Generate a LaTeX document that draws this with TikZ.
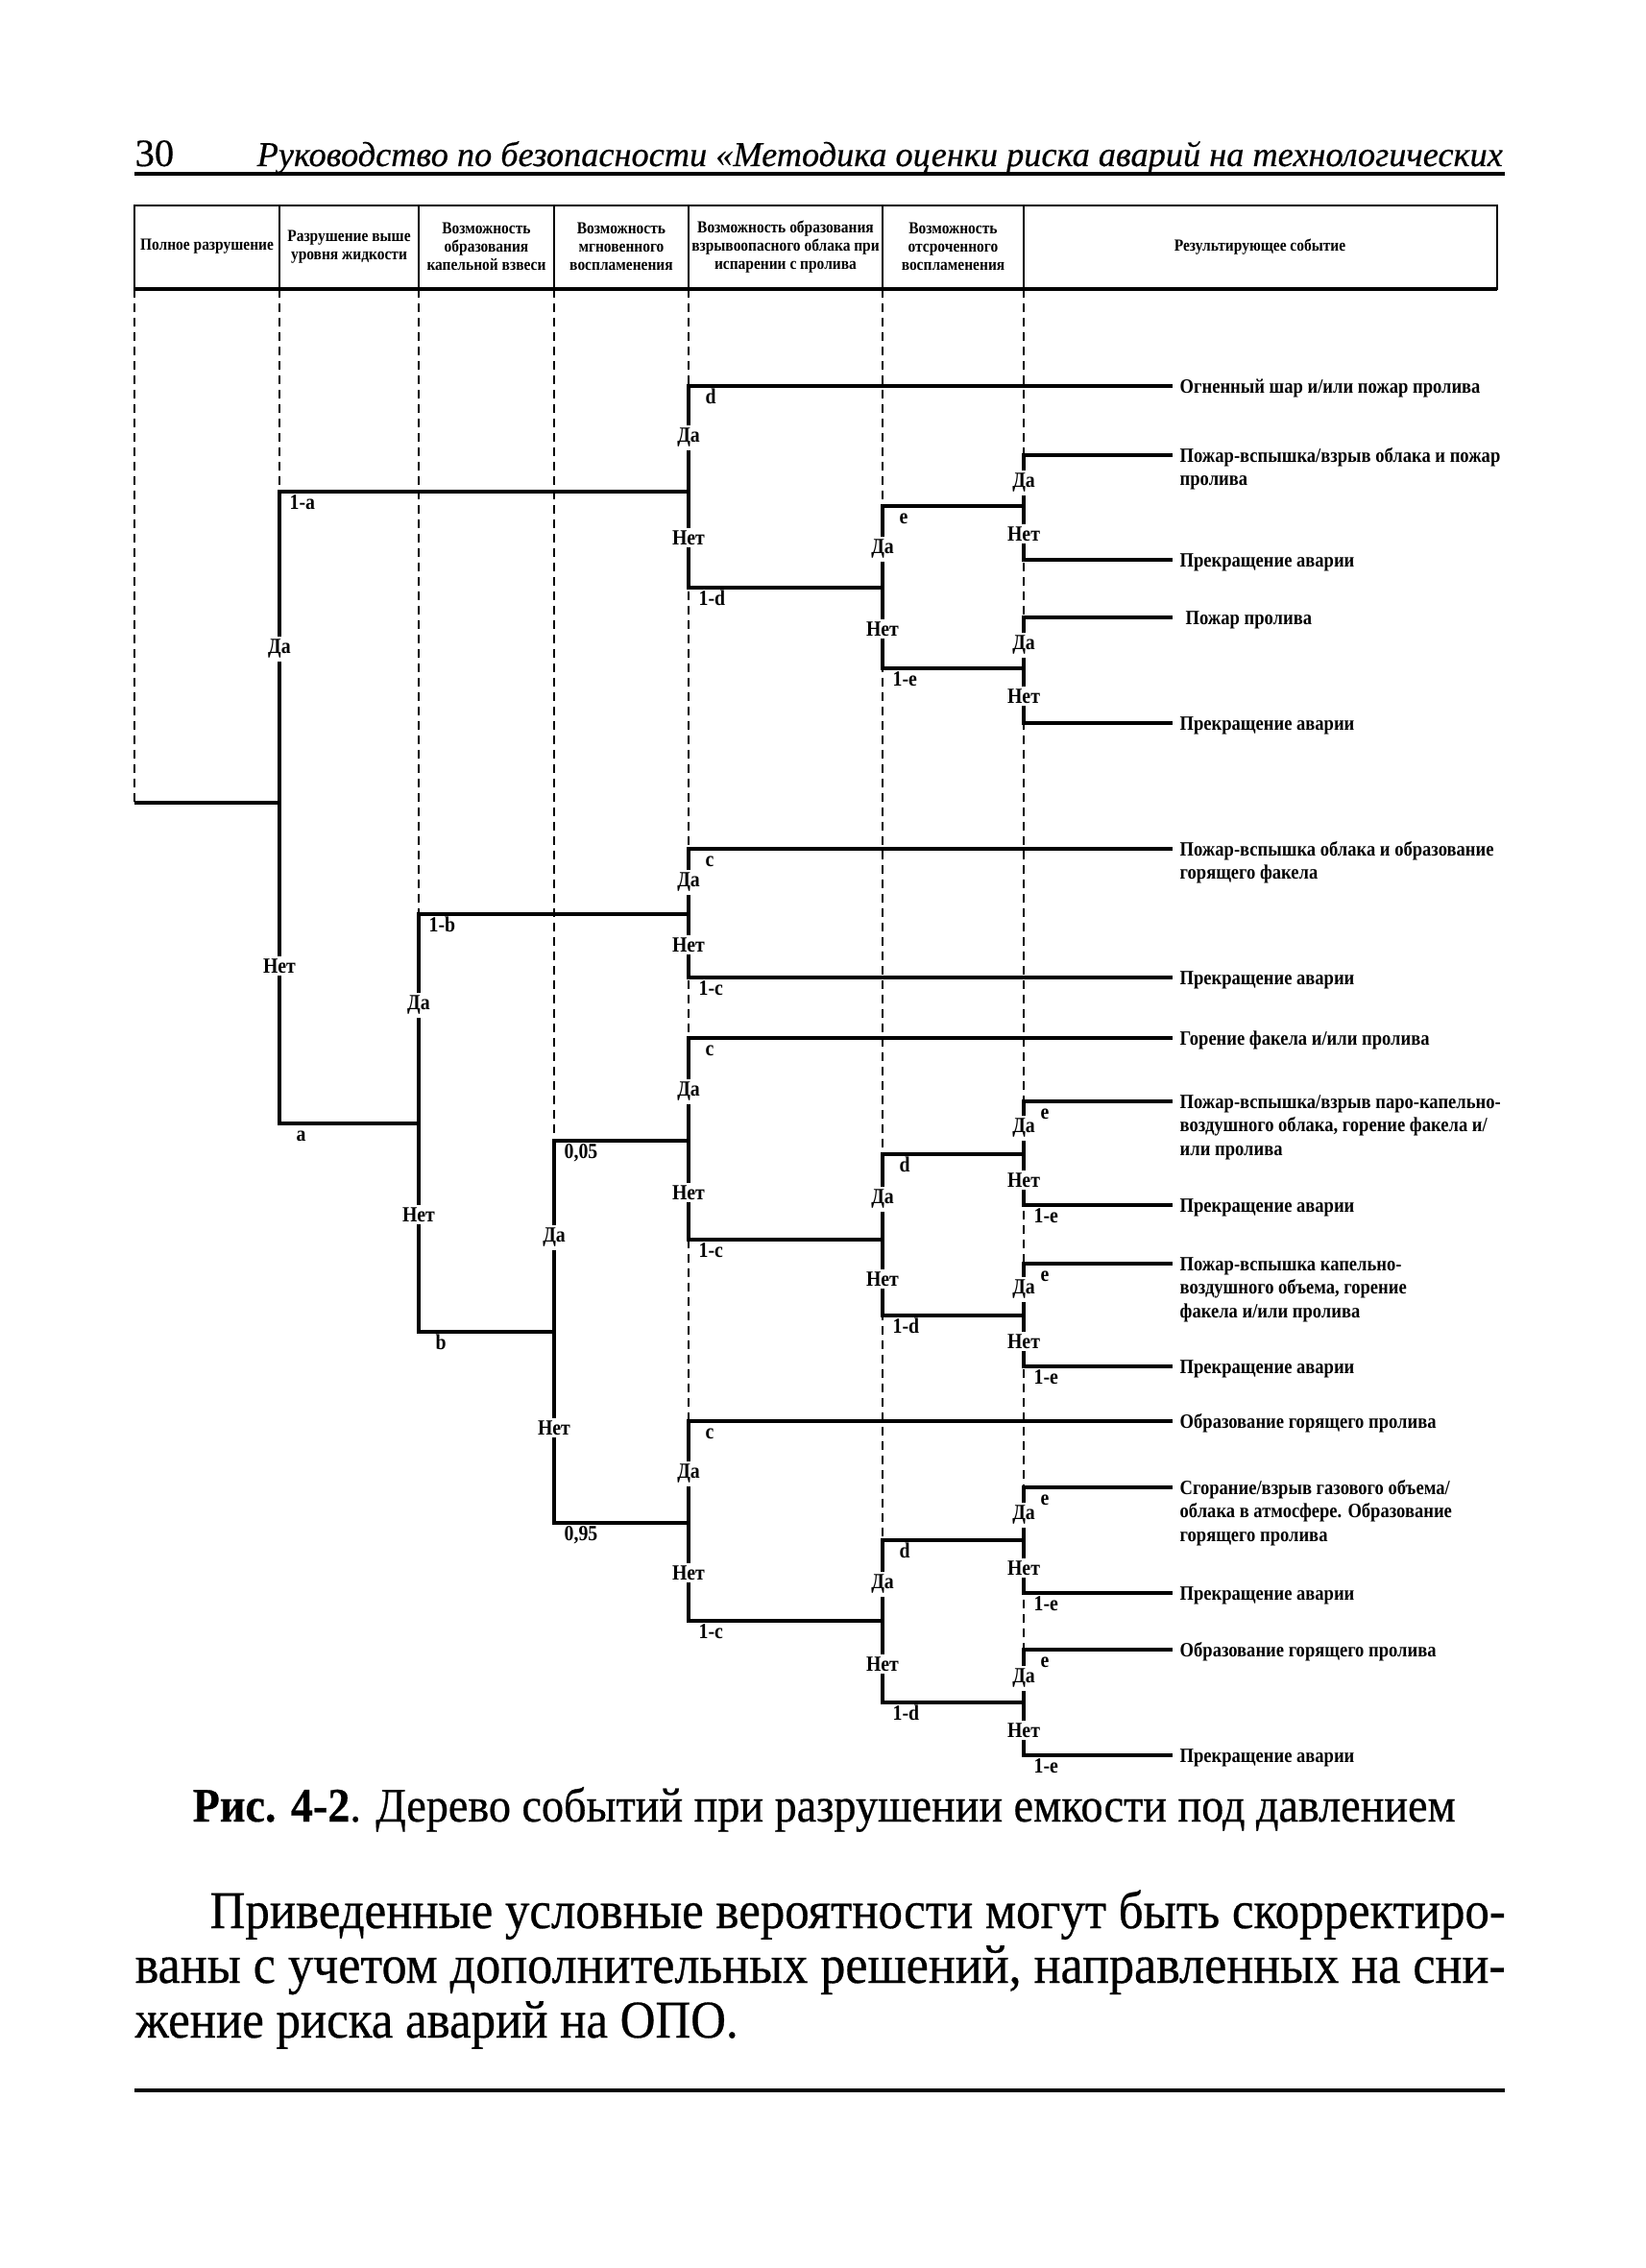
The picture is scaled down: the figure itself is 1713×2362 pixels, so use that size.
\documentclass[tikz,border=0pt]{standalone}
\usepackage{fontspec}
\setmainfont{Liberation Serif}
\newfontfamily\condf[FakeStretch=0.88]{Liberation Serif}
\newfontfamily\bodyf[FakeStretch=0.92,FakeBold=0.5]{Liberation Serif}
\newfontfamily\headf[FakeBold=0.4]{Liberation Serif}
\usepackage{graphicx}
\newcommand\lblfont{\condf\fontsize{6.4}{7}\selectfont\bfseries}
\newcommand\outfont{\condf\fontsize{6}{7}\selectfont\bfseries}
\newcommand\hdfont{\condf\fontsize{5}{5.4}\selectfont\bfseries}
\newcommand\outtext[1]{\begin{tabular}[t]{@{}l@{}}#1\end{tabular}}
\begin{document}
\begin{tikzpicture}[x=0.1mm,y=-0.1mm,
  tree/.style={line width=0.45mm},
  guide/.style={line width=0.13mm, dash pattern=on 0.9mm off 0.6mm},
  yn/.style={fill=white, inner sep=0.8pt, font=\lblfont},
  prs/.style={anchor=base west, inner sep=0pt, font=\lblfont, shift={(17,18)}},
  prl/.style={anchor=base west, inner sep=0pt, font=\lblfont, shift={(10,18)}},
  outc/.style={anchor=base west, inner sep=0pt, font=\outfont},
  hd/.style={align=center, font=\hdfont, inner sep=0pt},
  rule/.style={line width=0.35mm}]
\fill[white] (0,0) rectangle (1713,2362);
\useasboundingbox (0,0) rectangle (1713,2362);
\def\cA{140}\def\cB{291}\def\cC{436}\def\cD{577}\def\cE{717}\def\cF{919}\def\cG{1066}
\def\xe{1221}\def\xt{1228}

% ---------- page header ----------
\node[anchor=base west, inner sep=0pt] (pgnum) at (140,173) {\headf\fontsize{11.5}{13}\selectfont 30};
\node[anchor=base west, inner sep=0pt] (runhead) at (267,173) {\resizebox{129.7mm}{!}{\headf\fontsize{13}{15}\selectfont\itshape Руководство по безопасности «Методика оценки риска аварий на технологических}};
\coordinate (hrA) at (140,181); \coordinate (hrB) at (1567,181);
\draw[rule] (hrA) -- (hrB);

% ---------- table header ----------
\coordinate (tl) at (140,214); \coordinate (br) at (1559,301);
\draw[line width=0.28mm] (tl) rectangle (br);
\coordinate (hbL) at (140,301); \coordinate (hbR) at (1559,301);
\draw[line width=0.45mm] (hbL) -- (hbR);
\foreach \x in {\cB,\cC,\cD,\cE,\cF,\cG} \draw[line width=0.2mm] (\x,214) -- (\x,301);
\node[hd] (h1) at (215.5,257) {Полное разрушение};
\node[hd] (h2) at (363.5,257) {Разрушение выше\\уровня жидкости};
\node[hd] (h3) at (506.5,257) {Возможность\\образования\\капельной взвеси};
\node[hd] (h4) at (647,257) {Возможность\\мгновенного\\воспламенения};
\node[hd] (h5) at (818,257) {Возможность образования\\взрывоопасного облака при\\испарении с пролива};
\node[hd] (h6) at (992.5,257) {Возможность\\отсроченного\\воспламенения};
\node[hd] (h7) at (1312,257) {Результирующее событие};

% ---------- coordinates of the tree ----------
\coordinate (root) at (\cA,836);
\coordinate (n0) at (\cB,836);
\coordinate (n0t) at (\cB,512);  \coordinate (n0b) at (\cB,1170);
\coordinate (nA) at (\cE,512);   \coordinate (nB) at (\cC,1170);
\coordinate (n1t) at (\cC,952);  \coordinate (n1b) at (\cC,1387);
\coordinate (nBj) at (\cE,952);  \coordinate (nC4) at (\cD,1387);
\coordinate (n2t) at (\cD,1188); \coordinate (n2b) at (\cD,1586);
\coordinate (nCj) at (\cE,1188); \coordinate (nDj) at (\cE,1586);
% group A
\coordinate (a1t) at (\cE,402);  \coordinate (a1b) at (\cE,612);
\coordinate (a2j) at (\cF,612);
\coordinate (a2t) at (\cF,527);  \coordinate (a2b) at (\cF,696);
\coordinate (a3j) at (\cG,527);  \coordinate (a4j) at (\cG,696);
\coordinate (a3t) at (\cG,474);  \coordinate (a3b) at (\cG,583);
\coordinate (a4t) at (\cG,643);  \coordinate (a4b) at (\cG,753);
\coordinate (o1) at (\xe,402); \coordinate (o2) at (\xe,474); \coordinate (o3) at (\xe,583);
\coordinate (o4) at (\xe,643); \coordinate (o5) at (\xe,753);
% group B
\coordinate (b1t) at (\cE,884);  \coordinate (b1b) at (\cE,1018);
\coordinate (o6) at (\xe,884); \coordinate (o7) at (\xe,1018);
% group C
\coordinate (c1t) at (\cE,1081); \coordinate (c1b) at (\cE,1291);
\coordinate (c2j) at (\cF,1291);
\coordinate (c2t) at (\cF,1202); \coordinate (c2b) at (\cF,1370);
\coordinate (c3j) at (\cG,1202); \coordinate (c4j) at (\cG,1370);
\coordinate (c3t) at (\cG,1147); \coordinate (c3b) at (\cG,1255);
\coordinate (c4t) at (\cG,1316); \coordinate (c4b) at (\cG,1423);
\coordinate (o8) at (\xe,1081); \coordinate (o9) at (\xe,1147); \coordinate (o10) at (\xe,1255);
\coordinate (o11) at (\xe,1316); \coordinate (o12) at (\xe,1423);
% group D
\coordinate (d1t) at (\cE,1480); \coordinate (d1b) at (\cE,1688);
\coordinate (d2j) at (\cF,1688);
\coordinate (d2t) at (\cF,1604); \coordinate (d2b) at (\cF,1773);
\coordinate (d3j) at (\cG,1604); \coordinate (d4j) at (\cG,1773);
\coordinate (d3t) at (\cG,1549); \coordinate (d3b) at (\cG,1659);
\coordinate (d4t) at (\cG,1718); \coordinate (d4b) at (\cG,1828);
\coordinate (o13) at (\xe,1480); \coordinate (o14) at (\xe,1549); \coordinate (o15) at (\xe,1659);
\coordinate (o16) at (\xe,1718); \coordinate (o17) at (\xe,1828);

% ---------- dashed guides ----------
\coordinate (g1) at (\cA,301); \coordinate (g2) at (\cB,301); \coordinate (g3) at (\cC,301);
\coordinate (g4) at (\cD,301); \coordinate (g5) at (\cE,301); \coordinate (g6) at (\cF,301);
\coordinate (g7) at (\cG,301);
\draw[guide] (g1) -- (root);
\draw[guide] (g2) -- (n0t);
\draw[guide] (g3) -- (n1t);
\draw[guide] (g4) -- (n2t);
\draw[guide] (g5) -- (d1t);
\draw[guide] (g6) -- (d2t);
\draw[guide] (g7) -- (d4t);

% ---------- tree lines ----------
\draw[tree] (root) -- (n0);
\draw[tree] (nA) -- (n0t) -- (n0b) -- (nB);
\draw[tree] (nBj) -- (n1t) -- (n1b) -- (nC4);
\draw[tree] (nCj) -- (n2t) -- (n2b) -- (nDj);
% A
\draw[tree] (o1) -- (a1t) -- (a1b) -- (a2j);
\draw[tree] (a3j) -- (a2t) -- (a2b) -- (a4j);
\draw[tree] (o2) -- (a3t) -- (a3b) -- (o3);
\draw[tree] (o4) -- (a4t) -- (a4b) -- (o5);
% B
\draw[tree] (o6) -- (b1t) -- (b1b) -- (o7);
% C
\draw[tree] (o8) -- (c1t) -- (c1b) -- (c2j);
\draw[tree] (c3j) -- (c2t) -- (c2b) -- (c4j);
\draw[tree] (o9) -- (c3t) -- (c3b) -- (o10);
\draw[tree] (o11) -- (c4t) -- (c4b) -- (o12);
% D
\draw[tree] (o13) -- (d1t) -- (d1b) -- (d2j);
\draw[tree] (d3j) -- (d2t) -- (d2b) -- (d4j);
\draw[tree] (o14) -- (d3t) -- (d3b) -- (o15);
\draw[tree] (o16) -- (d4t) -- (d4b) -- (o17);

% ---------- yes / no labels ----------
\node[yn] (y1) at (\cB,676) {Да};   \node[yn] (n1) at (\cB,1006) {Нет};
\node[yn] (y2) at (\cC,1047) {Да};  \node[yn] (n2) at (\cC,1265) {Нет};
\node[yn] (y3) at (\cD,1289) {Да};  \node[yn] (n3) at (\cD,1487) {Нет};
\node[yn] (y4) at (\cE,456) {Да};   \node[yn] (n4) at (\cE,560) {Нет};
\node[yn] (y5) at (\cF,572) {Да};   \node[yn] (n5) at (\cF,655) {Нет};
\node[yn] (y6) at (\cG,503) {Да};   \node[yn] (n6) at (\cG,556) {Нет};
\node[yn] (y7) at (\cG,672) {Да};   \node[yn] (n7) at (\cG,725) {Нет};
\node[yn] (y8) at (\cE,919) {Да};   \node[yn] (n8) at (\cE,984) {Нет};
\node[yn] (y9) at (\cE,1137) {Да};  \node[yn] (n9) at (\cE,1242) {Нет};
\node[yn] (y10) at (\cF,1249) {Да}; \node[yn] (n10) at (\cF,1332) {Нет};
\node[yn] (y11) at (\cG,1175) {Да}; \node[yn] (n11) at (\cG,1229) {Нет};
\node[yn] (y12) at (\cG,1343) {Да}; \node[yn] (n12) at (\cG,1397) {Нет};
\node[yn] (y13) at (\cE,1535) {Да}; \node[yn] (n13) at (\cE,1638) {Нет};
\node[yn] (y14) at (\cF,1650) {Да}; \node[yn] (n14) at (\cF,1733) {Нет};
\node[yn] (y15) at (\cG,1578) {Да}; \node[yn] (n15) at (\cG,1633) {Нет};
\node[yn] (y16) at (\cG,1748) {Да}; \node[yn] (n16) at (\cG,1802) {Нет};

% ---------- probability labels ----------
\node[prl] (p1) at (n0t) {1-a};  \node[prs] (p2) at (n0b) {a};
\node[prl] (p3) at (n1t) {1-b};  \node[prs] (p4) at (n1b) {b};
\node[prl] (p5) at (n2t) {0,05}; \node[prl] (p6) at (n2b) {0,95};
\node[prs] (p7) at (a1t) {d};    \node[prl] (p8) at (a1b) {1-d};
\node[prs] (p9) at (a2t) {e};    \node[prl] (p10) at (a2b) {1-e};
\node[prs] (p11) at (b1t) {c};   \node[prl] (p12) at (b1b) {1-c};
\node[prs] (p13) at (c1t) {c};   \node[prl] (p14) at (c1b) {1-c};
\node[prs] (p15) at (c2t) {d};   \node[prl] (p16) at (c2b) {1-d};
\node[prs] (p17) at (c3t) {e};   \node[prl] (p18) at (c3b) {1-e};
\node[prs] (p19) at (c4t) {e};   \node[prl] (p20) at (c4b) {1-e};
\node[prs] (p21) at (d1t) {c};   \node[prl] (p22) at (d1b) {1-c};
\node[prs] (p23) at (d2t) {d};   \node[prl] (p24) at (d2b) {1-d};
\node[prs] (p25) at (d3t) {e};   \node[prl] (p26) at (d3b) {1-e};
\node[prs] (p27) at (d4t) {e};   \node[prl] (p28) at (d4b) {1-e};

% ---------- outcomes ----------
\node[outc] (t1) at (\xt,409) {\outtext{Огненный шар и/или пожар пролива}};
\node[outc] (t2) at (\xt,481) {\outtext{Пожар-вспышка/взрыв облака и пожар\\пролива}};
\node[outc] (t3) at (\xt,590) {\outtext{Прекращение аварии}};
\node[outc] (t4) at (1234,650) {\outtext{Пожар пролива}};
\node[outc] (t5) at (\xt,760) {\outtext{Прекращение аварии}};
\node[outc] (t6) at (\xt,891) {\outtext{Пожар-вспышка облака и образование\\горящего факела}};
\node[outc] (t7) at (\xt,1025) {\outtext{Прекращение аварии}};
\node[outc] (t8) at (\xt,1088) {\outtext{Горение факела и/или пролива}};
\node[outc] (t9) at (\xt,1154) {\outtext{Пожар-вспышка/взрыв паро-капельно-\\воздушного облака, горение факела и/\\или пролива}};
\node[outc] (t10) at (\xt,1262) {\outtext{Прекращение аварии}};
\node[outc] (t11) at (\xt,1323) {\outtext{Пожар-вспышка капельно-\\воздушного объема, горение\\факела и/или пролива}};
\node[outc] (t12) at (\xt,1430) {\outtext{Прекращение аварии}};
\node[outc] (t13) at (\xt,1487) {\outtext{Образование горящего пролива}};
\node[outc] (t14) at (\xt,1556) {\outtext{Сгорание/взрыв газового объема/\\облака в атмосфере. Образование\\горящего пролива}};
\node[outc] (t15) at (\xt,1666) {\outtext{Прекращение аварии}};
\node[outc] (t16) at (\xt,1725) {\outtext{Образование горящего пролива}};
\node[outc] (t17) at (\xt,1835) {\outtext{Прекращение аварии}};

% ---------- caption and body text ----------
\node[anchor=base west, inner sep=0pt] (caption) at (200,1897) {\resizebox{131.5mm}{!}{\bodyf\fontsize{12}{14}\selectfont\textbf{Рис. 4-2}. Дерево событий при разрушении емкости под давлением}};
\node[anchor=base west, inner sep=0pt] (body1) at (218,2008) {\resizebox{134.9mm}{!}{\bodyf\fontsize{14}{16}\selectfont Приведенные условные вероятности могут быть скорректиро-}};
\node[anchor=base west, inner sep=0pt] (body2) at (140,2065) {\resizebox{142.7mm}{!}{\bodyf\fontsize{14}{16}\selectfont ваны с учетом дополнительных решений, направленных на сни-}};
\node[anchor=base west, inner sep=0pt] (body3) at (140,2122) {\resizebox{62.8mm}{!}{\bodyf\fontsize{14}{16}\selectfont жение риска аварий на ОПО.}};
\coordinate (brA) at (140,2177); \coordinate (brB) at (1567,2177);
\draw[rule] (brA) -- (brB);
\end{tikzpicture}
\end{document}
